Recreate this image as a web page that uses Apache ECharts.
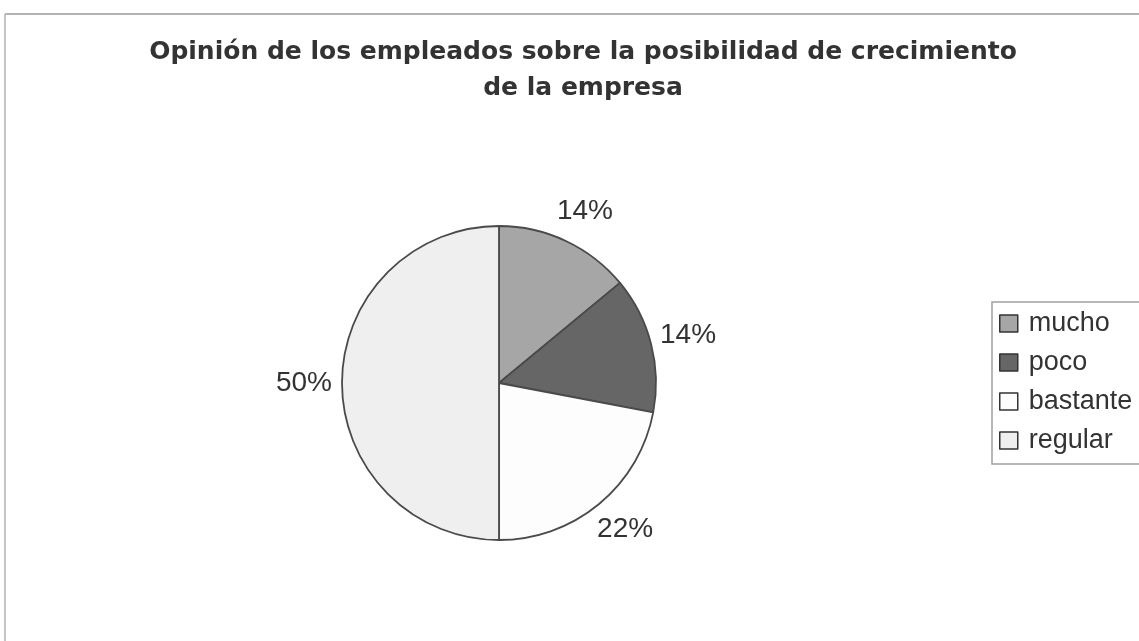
<!DOCTYPE html>
<html><head><meta charset="utf-8">
<script src="https://cdn.jsdelivr.net/npm/echarts@6/dist/echarts.min.js"></script>
<style>html,body{margin:0;padding:0;background:#fff}#c{width:1139px;height:641px}</style>
</head><body><div id="c"></div>
<script>
const titleText = 'Opinión de los empleados sobre la posibilidad de crecimiento\nde la empresa';
const categories = ['mucho', 'poco', 'bastante', 'regular'];
const values = [7, 7, 11, 25];
const colors = ['#a6a6a6', '#666666', '#fdfdfd', '#efefef'];

const chart = echarts.init(document.getElementById('c'));
chart.setOption({
  backgroundColor: '#ffffff',
  animation: false,
  graphic: [
    { type: 'line', shape: { x1: 5, y1: 14, x2: 1139, y2: 14 }, style: { stroke: '#9a9a9a', lineWidth: 1.5 } },
    { type: 'line', shape: { x1: 5, y1: 14, x2: 5, y2: 641 }, style: { stroke: '#b0b0b0', lineWidth: 1.5 } }
  ],
  title: {
    text: titleText,
    left: 583, textAlign: 'center', top: 34,
    padding: 0,
    textStyle: { fontFamily: 'DejaVu Sans', fontWeight: 'bold', fontSize: 25, color: '#333', lineHeight: 36 }
  },
  legend: {
    orient: 'vertical',
    left: 992, top: 302,
    padding: [8, 20, 10, 7],
    borderColor: '#a0a0a0', borderWidth: 1.5,
    itemWidth: 18, itemHeight: 17, itemGap: 12,
    icon: 'rect',
    itemStyle: { borderColor: '#333', borderWidth: 1.5 },
    textStyle: { fontFamily: 'Liberation Sans', fontSize: 27, color: '#333', padding: [0, 0, 0, 6] },
    data: categories
  },
  series: [{
    type: 'pie',
    center: [499, 383],
    radius: 157,
    startAngle: 90,
    clockwise: true,
    color: colors,
    itemStyle: { borderColor: '#4a4a4a', borderWidth: 1.8 },
    label: {
      show: true, position: 'outside',
      formatter: p => Math.round(p.percent) + '%',
      fontFamily: 'Liberation Sans', fontSize: 28, color: '#333'
    },
    labelLine: { show: false, length: 33, length2: 0 },
    labelLayout: { align: 'center', verticalAlign: 'middle' },
    emphasis: { disabled: true },
    data: categories.map((n, i) => ({ name: n, value: values[i] }))
  }]
});
</script></body></html>
